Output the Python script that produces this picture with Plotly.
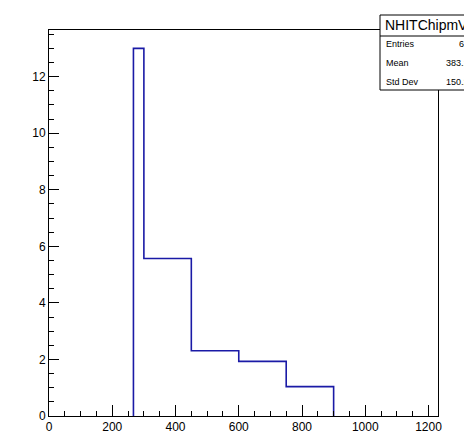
import plotly.graph_objects as go

# Histogram data (variable-width bins)
bin_edges = [267, 300, 450, 600, 750, 900]
bin_heights = [13.0, 5.57, 2.31, 1.93, 1.04]

stats_title = "NHITChipmVsRun"
stats_labels = ["Entries", "Mean", "Std Dev"]
stats_values = ["63", "383.1", "150.2"]

W, H = 464, 434
ML, MR, MT, MB = 49, 26, 30, 18
PW, PH = W - ML - MR, H - MT - MB

def px(x):
    return (x - ML) / PW

def py(y):
    return (H - MB - y) / PH

# Step outline
xs = [bin_edges[0]] + bin_edges[:-1] + [bin_edges[-1], bin_edges[-1]]
ys = [0] + bin_heights + [bin_heights[-1], 0]

fig = go.Figure()
fig.add_trace(go.Scatter(x=xs, y=ys, mode="lines", line_shape="hv",
                         line=dict(color="#1a1aa6", width=1.6),
                         hoverinfo="skip", showlegend=False))

axis_common = dict(showline=True, linecolor="black", linewidth=1, mirror=True,
                   showgrid=False, zeroline=False, ticks="inside", tickcolor="black",
                   tickwidth=1, automargin=False,
                   tickfont=dict(family="Liberation Sans, Arial", size=12, color="black"))

fig.update_layout(
    width=W, height=H,
    margin=dict(l=ML, r=MR, t=MT, b=MB),
    paper_bgcolor="white", plot_bgcolor="white",
    xaxis=dict(range=[0, 1230], dtick=200, tick0=0, ticklen=11,
               minor=dict(ticks="inside", dtick=50, ticklen=5, tickcolor="black"),
               **axis_common),
    yaxis=dict(range=[0, 13.65], dtick=2, tick0=0, ticklen=10,
               minor=dict(ticks="inside", dtick=0.5, ticklen=5, tickcolor="black"),
               **axis_common),
)

# Stats box
x0, x1, y0, y1, ysep = 380, 520, 15, 90, 36
fig.add_shape(type="rect", xref="paper", yref="paper",
              x0=px(x0), x1=px(x1), y0=py(y1), y1=py(y0),
              line=dict(color="black", width=1), fillcolor="white")
fig.add_shape(type="line", xref="paper", yref="paper",
              x0=px(x0), x1=px(x1), y0=py(ysep), y1=py(ysep),
              line=dict(color="black", width=1))
fig.add_annotation(xref="paper", yref="paper", x=px(383), y=py(25.5),
                   text=stats_title, showarrow=False, xanchor="left", yanchor="middle",
                   font=dict(family="Liberation Sans, Arial", size=14, color="black"))
rows_y = [44, 63, 82]
for lab, val, yy in zip(stats_labels, stats_values, rows_y):
    fig.add_annotation(xref="paper", yref="paper", x=px(384), y=py(yy),
                       text=lab, showarrow=False, xanchor="left", yanchor="middle",
                       font=dict(family="Liberation Sans, Arial", size=9, color="black"))
    fig.add_annotation(xref="paper", yref="paper", x=px(471), y=py(yy),
                       text=val, showarrow=False, xanchor="right", yanchor="middle",
                       font=dict(family="Liberation Sans, Arial", size=9, color="black"))

fig.write_html("out.html")
